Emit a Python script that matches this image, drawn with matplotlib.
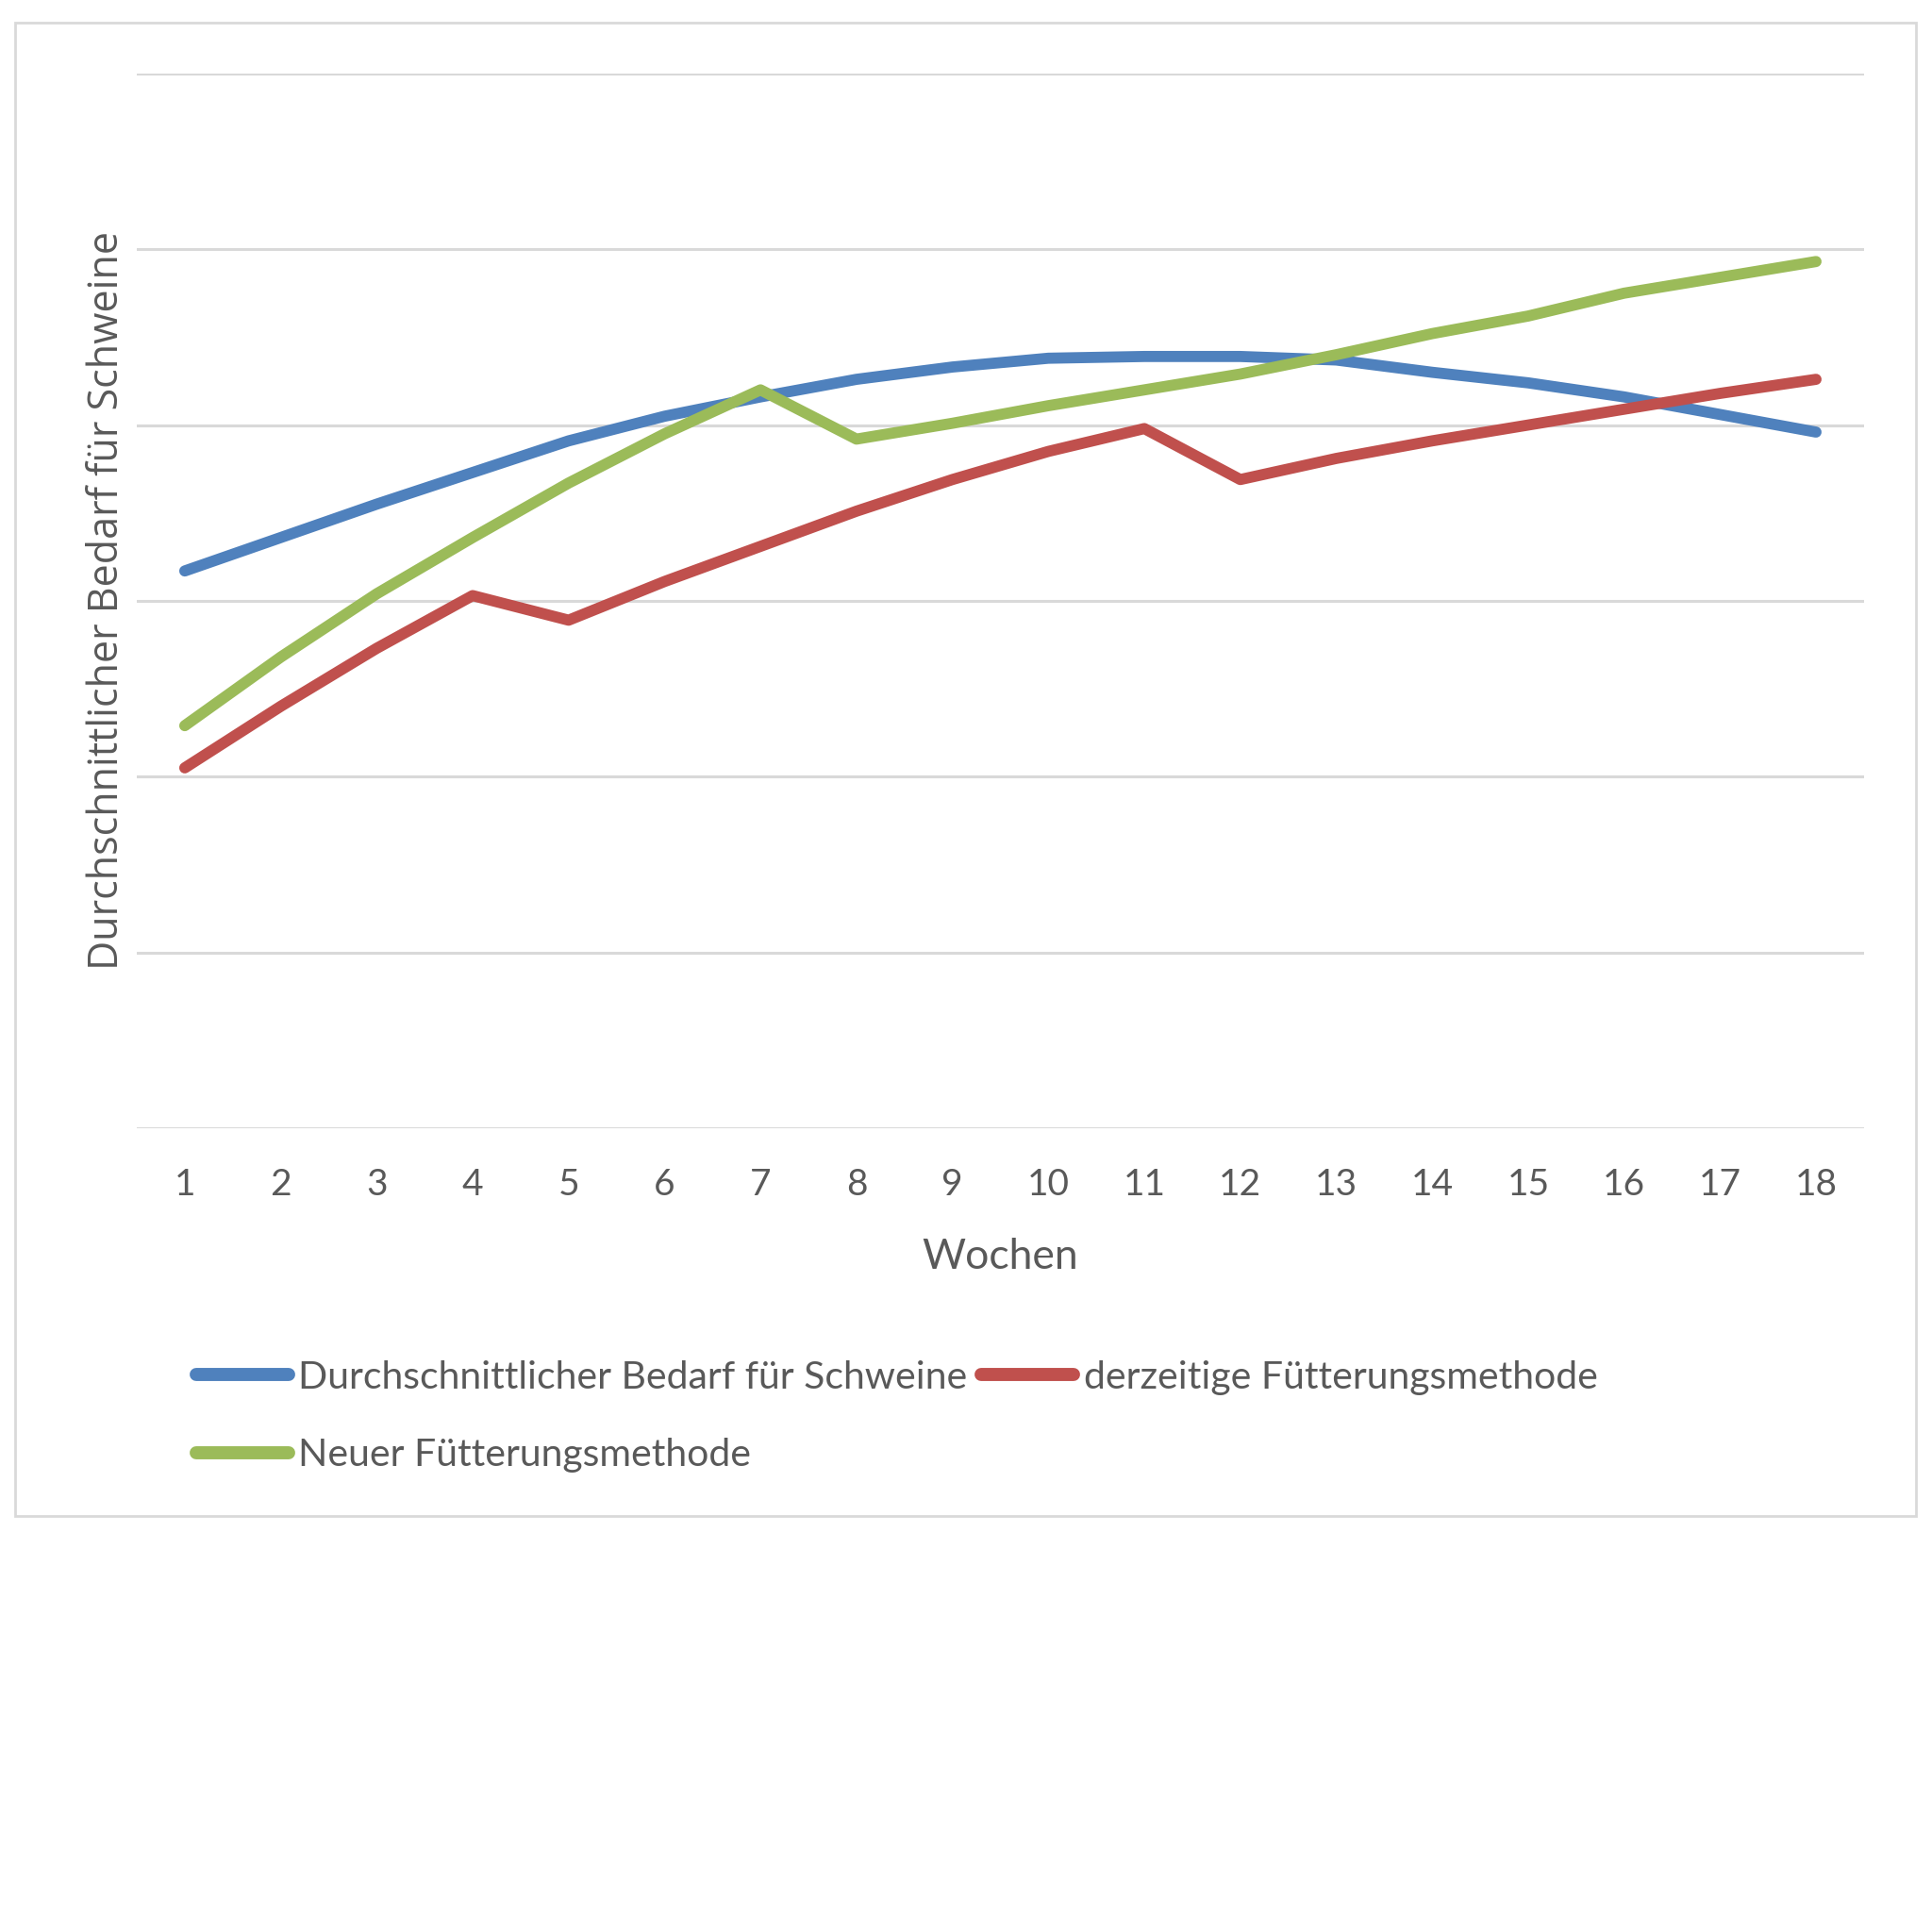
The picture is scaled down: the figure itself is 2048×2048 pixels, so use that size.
import matplotlib
matplotlib.use("Agg")
import matplotlib.pyplot as plt
from matplotlib.patches import Rectangle

# Weeks and the three feeding series (grid unit = 1)
wochen = list(range(1, 19))
bedarf = [3.17, 3.36, 3.55, 3.73, 3.91, 4.05, 4.16, 4.26, 4.33,
          4.38, 4.39, 4.39, 4.37, 4.30, 4.24, 4.16, 4.06, 3.96]
derzeitig = [2.05, 2.40, 2.73, 3.03, 2.89, 3.11, 3.31, 3.51, 3.69,
             3.85, 3.98, 3.69, 3.81, 3.91, 4.00, 4.09, 4.18, 4.26]
neu = [2.29, 2.68, 3.04, 3.36, 3.67, 3.95, 4.20, 3.92, 4.01,
       4.11, 4.20, 4.29, 4.40, 4.52, 4.62, 4.75, 4.84, 4.93]

labels = ['Durchschnittlicher Bedarf für Schweine',
          'derzeitige Fütterungsmethode',
          'Neuer Fütterungsmethode']
colors = ['#4F81BD', '#C0504D', '#9BBB59']

TEXT = '#595959'
GRID = '#D9D9D9'
FONT = ['Lato', 'DejaVu Sans']

fig = plt.figure(figsize=(20.48, 20.48), dpi=100)

# light chart-area frame like the Excel export
fig.patches.append(Rectangle((0.0078, 0.2153), 0.9839, 0.773, transform=fig.transFigure,
                             fill=False, edgecolor=GRID, linewidth=2))

ax = fig.add_axes([0.0708, 0.416, 0.894, 0.546])

lines = []
for ys, c, lab in zip([bedarf, derzeitig, neu], colors, labels):
    ln, = ax.plot(wochen, ys, color=c, linewidth=8.5, label=lab,
                  solid_capstyle='round', solid_joinstyle='round', zorder=3)
    lines.append(ln)

ax.set_xlim(0.5, 18.5)
ax.set_ylim(0, 6)
ax.set_yticks(range(0, 7))
ax.set_yticklabels([])
ax.set_xticks(wochen)
ax.set_xticklabels([str(w) for w in wochen], family=FONT, fontsize=28, color=TEXT)
ax.tick_params(axis='x', length=0, pad=30)
ax.tick_params(axis='y', length=0)
ax.grid(axis='y', color=GRID, linewidth=2.2, zorder=0)
for s in ax.spines.values():
    s.set_visible(False)

ax.set_xlabel('Wochen', family=FONT, fontsize=32, color=TEXT)
ax.xaxis.set_label_coords(0.5, -0.122)
ax.xaxis.label.set_va('center')

ax.set_ylabel('Durchschnittlicher Bedarf für Schweine',
              family=['Open Sans', 'DejaVu Sans'], fontsize=31, color=TEXT)
ax.yaxis.set_label_coords(-0.017, 0.5)
ax.yaxis.label.set_va('center')

# row-major order: blue, red on first row, green on second
order = [0, 2, 1]
leg = fig.legend([lines[i] for i in order], [labels[i] for i in order],
                 loc='upper left', bbox_to_anchor=(0.0915, 0.306), ncol=2,
                 frameon=False, borderpad=0, handlelength=2.4, handletextpad=0.25,
                 columnspacing=0.35, labelspacing=1.1,
                 prop={'family': FONT, 'size': 29.5})
for t in leg.get_texts():
    t.set_color(TEXT)
for h in leg.get_lines():
    h.set_linewidth(10)
    h.set_solid_capstyle('round')

fig.savefig('out.png', dpi=100, facecolor='white')
